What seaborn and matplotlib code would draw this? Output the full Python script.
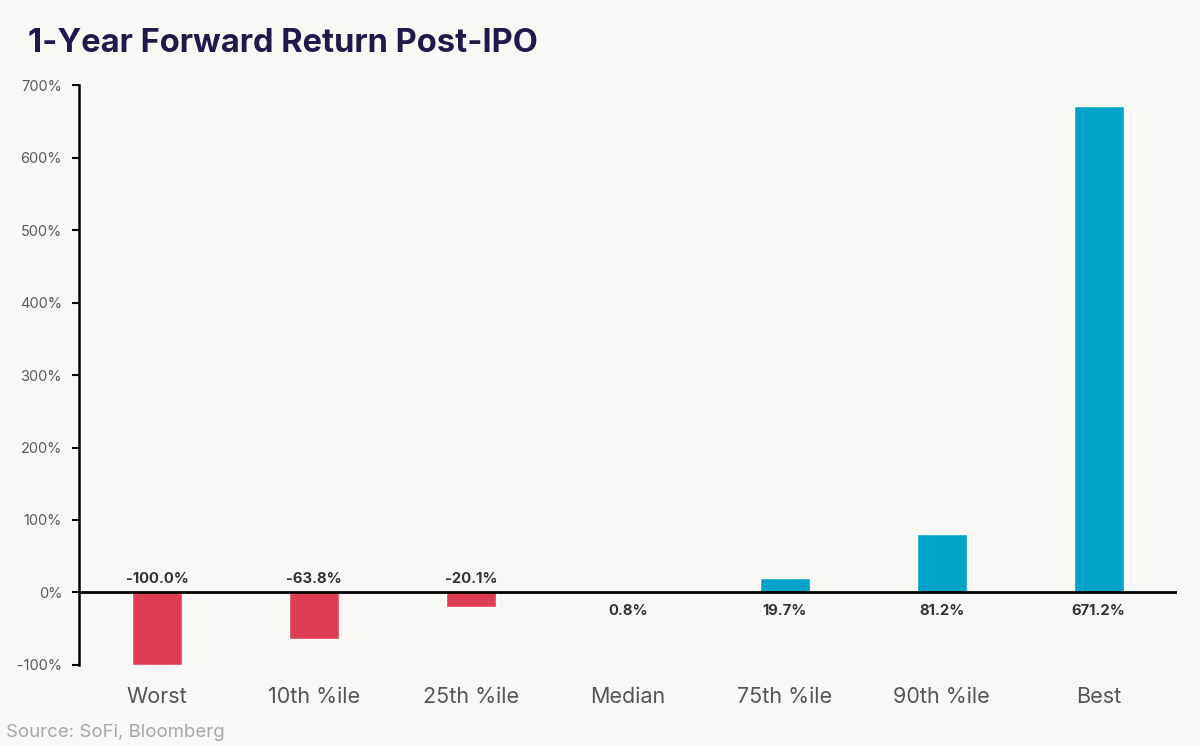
import matplotlib
matplotlib.use("Agg")
import matplotlib.pyplot as plt
import seaborn as sns
import pandas as pd
from matplotlib.ticker import FuncFormatter

categories = ["Worst", "10th %ile", "25th %ile", "Median", "75th %ile", "90th %ile", "Best"]
returns = [-100.0, -63.8, -20.1, 0.8, 19.7, 81.2, 671.2]
yticks = [-100, 0, 100, 200, 300, 400, 500, 600, 700]

RED = "#E03D55"
BLUE = "#00A3C8"
BG = "#F9F8F5"

df = pd.DataFrame({"category": categories, "ret": returns})
df["sign"] = ["neg" if v < 0 else "pos" for v in returns]

sns.set_theme(style="white")
plt.rcParams["font.family"] = ["Inter", "DejaVu Sans"]

fig = plt.figure(figsize=(12, 7.46), dpi=100, facecolor=BG)
ax = fig.add_axes([0.0656, 0.1086, 0.9154, 0.7774])
ax.set_facecolor(BG)

sns.barplot(data=df, x="category", y="ret", hue="sign",
            palette={"neg": RED, "pos": BLUE}, dodge=False,
            width=0.32, legend=False, saturation=1, ax=ax)

ax.set_xlim(-0.5, 6.5)
ax.set_ylim(-100, 700)
ax.set_yticks(yticks)
ax.yaxis.set_major_formatter(FuncFormatter(lambda v, _: f"{v:.0f}%"))
ax.axhline(0, color="black", lw=2, zorder=3)

for s in ["top", "right", "bottom"]:
    ax.spines[s].set_visible(False)
ax.spines["left"].set_color("black")
ax.spines["left"].set_linewidth(1.8)

ax.tick_params(axis="y", left=True, length=5, width=1.5, color="black",
               labelsize=10.5, labelcolor="#5a5a5a", pad=7)
ax.tick_params(axis="x", bottom=False, labelsize=15.5, labelcolor="#555555", pad=10)
ax.set_xlabel("")
ax.set_ylabel("")

# value labels: negatives above the zero line, positives below
for i, v in enumerate(returns):
    if v < 0:
        ax.annotate(f"{v:.1f}%", (i, 0), xytext=(0, 5), textcoords="offset points",
                    ha="center", va="bottom", fontsize=10.7, fontweight="bold", color="#333333")
    else:
        ax.annotate(f"{v:.1f}%", (i, 0), xytext=(0, -8), textcoords="offset points",
                    ha="center", va="top", fontsize=10.7, fontweight="bold", color="#333333")

fig.text(0.023, 0.942, "1-Year Forward Return Post-IPO", fontsize=23.5, fontweight="bold",
         color="#1E1A4A", ha="left", va="center")
fig.text(0.005, 0.018, "Source: SoFi, Bloomberg", fontsize=13.4, color="#A8A8A8",
         ha="left", va="center")

fig.savefig("out.png", dpi=100, facecolor=BG)
